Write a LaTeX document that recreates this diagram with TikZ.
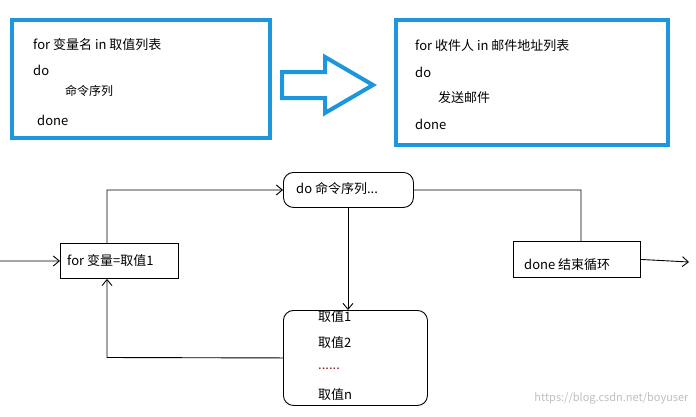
\documentclass[tikz,border=0pt]{standalone}
\usepackage{fontspec}
\setmainfont{Noto Sans CJK SC}
\usetikzlibrary{arrows.meta}
\definecolor{bl}{RGB}{30,150,220}
\tikzset{
  bigbox/.style={draw=bl,line width=4pt},
  box/.style={draw,line width=0.9pt,minimum height=35pt,inner sep=4pt},
  rbox/.style={draw,line width=0.9pt,rounded corners=10pt},
  txt/.style={anchor=west,inner sep=0pt,font=\fontsize{13}{15}\selectfont},
  con/.style={draw,line width=0.9pt,-{Straight Barb[length=6pt,width=10pt]}}
}
\begin{document}
\begin{tikzpicture}[x=1pt,y=-1pt]
\useasboundingbox[fill=white] (0,0) rectangle (696,416);
% top-left
\draw[bigbox] (12,20) rectangle (270,138);
\node[txt] (a1) at (33,45) {for 变量名 in 取值列表};
\node[txt] (a2) at (33,70) {do};
\node[txt,font=\fontsize{12}{14}\selectfont] (a3) at (65,91) {命令序列};
\node[txt] (a4) at (37,120) {done};
% block arrow
\draw[draw=bl,line width=4pt,line join=miter] (282,72) -- (325,72) -- (325,57) -- (373,85) -- (325,113) -- (325,98) -- (282,98) -- cycle;
% top-right
\draw[bigbox] (396,20) rectangle (668,145);
\node[txt] (b1) at (415,46) {for 收件人 in 邮件地址列表};
\node[txt] (b2) at (415,72) {do};
\node[txt] (b3) at (438,98) {发送邮件};
\node[txt] (b4) at (415,124) {done};
% flow
\node[box,minimum width=118pt,anchor=north west] (for) at (60,243) {};
\node[txt] at (67,261) {for 变量=取值1};
\node[rbox,minimum width=130pt,minimum height=35pt,anchor=north west] (do) at (283,172) {};
\node[txt] at (296,189) {do 命令序列...};
\node[box,minimum width=127pt,minimum height=36pt,anchor=north west] (done) at (513,241) {};
\node[txt] at (524,265) {done 结束循环};
\node[rbox,minimum width=144pt,minimum height=95pt,anchor=north west] (vals) at (283,310) {};
\node[txt] at (318,317) {取值1};
\node[txt] at (318,343) {取值2};
\node[txt,text={rgb,255:red,140;green,30;blue,30}] at (318,369) {......};
\node[txt] at (318,395) {取值n};
\coordinate (in) at (0,261);
\coordinate (out) at (689,262);
\draw[con] (in) -- (for.west);
\draw[con] (for.north -| 107,0) -- (107,190) -- (do.west);
\draw[line width=0.9pt] (do.east) -- (581,190) -- (done.north -| 581,0);
\draw[con] (done.east) -- (out);
\draw[con] (348,207) -- (vals.north -| 348,0);
\draw[con] (vals.west) -- (107,357.5) -- (for.south -| 107,0);
\node[anchor=east,text=gray!50,font=\fontsize{11}{13}\selectfont] (wm) at (692,398) {https://blog.csdn.net/boyuser};
\end{tikzpicture}
\end{document}
